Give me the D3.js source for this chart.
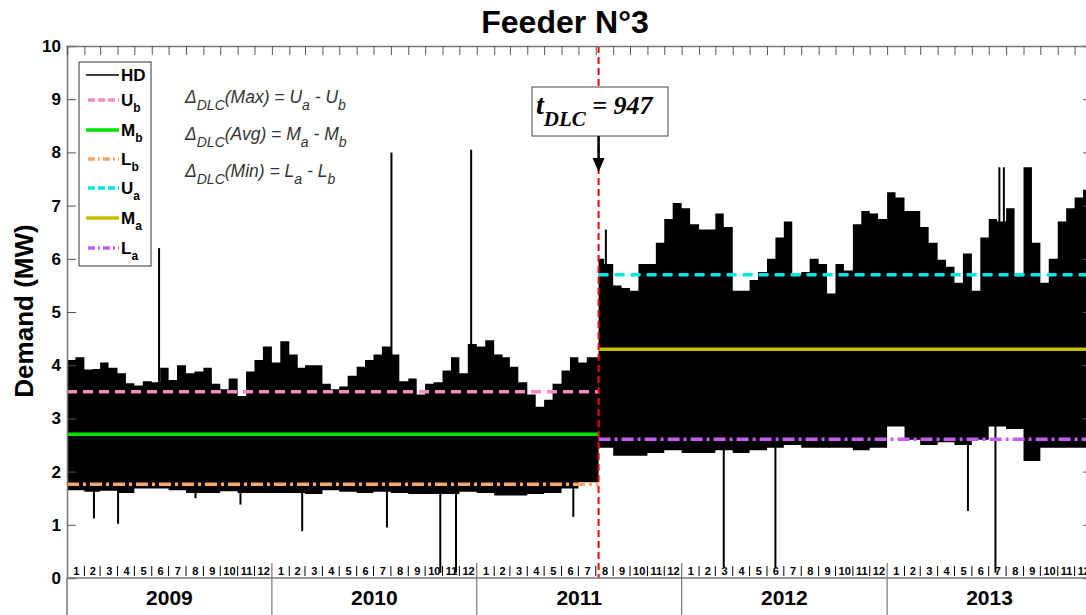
<!DOCTYPE html>
<html>
<head>
<meta charset="utf-8">
<script src="https://cdn.jsdelivr.net/npm/d3@7.9.0/dist/d3.min.js"></script>
<style>
  body { margin: 0; background: #fff; }
  svg { display: block; overflow: hidden; font-family: Arial, "Liberation Sans", sans-serif; }
</style>
</head>
<body>
<svg id="chart" width="1086" height="615"></svg>
<script>
// upper envelope of hourly demand, one value per half month, 2009-01 .. 2013-12 (MW)
const upperHalfMonth = [
  4.10, 4.15, 3.92, 3.93, 4.05, 3.95, 3.85, 3.66, 3.62, 3.70, 3.68, 3.95,
  3.72, 4.00, 3.85, 3.88, 3.95, 3.65, 3.55, 3.75, 3.42, 3.88, 4.10, 4.35,
  4.05, 4.45, 4.20, 3.95, 4.00, 4.00, 3.65, 3.55, 3.60, 3.80, 3.97, 4.10,
  4.20, 4.35, 4.20, 3.70, 3.75, 3.45, 3.65, 3.68, 3.90, 4.15, 3.85, 4.40,
  4.35, 4.47, 4.20, 4.15, 3.97, 3.68, 3.45, 3.22, 3.35, 3.65, 3.90, 4.15,
  4.05, 4.15, 6.00, 5.90, 5.50, 5.45, 5.40, 5.90, 5.90, 6.30, 6.75, 7.05,
  6.95, 6.65, 6.55, 6.55, 6.85, 6.60, 5.40, 5.40, 5.60, 5.75, 6.00, 6.40,
  6.70, 5.70, 5.75, 6.00, 5.90, 5.35, 5.90, 5.78, 6.65, 6.90, 6.85, 6.75,
  7.25, 7.15, 6.90, 6.90, 6.60, 6.30, 5.98, 5.85, 5.55, 6.10, 5.40, 6.40,
  6.75, 6.70, 6.95, 5.67, 7.72, 6.30, 5.55, 6.00, 6.70, 6.95, 7.15, 7.30
];

// lower envelope of hourly demand, one value per month (MW)
const lowerMonth = [
  1.65, 1.62, 1.64, 1.60, 1.68, 1.68, 1.65, 1.60, 1.60, 1.63, 1.60, 1.60,
  1.60, 1.60, 1.58, 1.65, 1.62, 1.60, 1.62, 1.60, 1.58, 1.58, 1.58, 1.62,
  1.60, 1.55, 1.55, 1.58, 1.60, 1.68, 1.80, 2.45, 2.30, 2.30, 2.35, 2.40,
  2.35, 2.35, 2.40, 2.35, 2.40, 2.45, 2.50, 2.45, 2.45, 2.45, 2.40, 2.45,
  2.85, 2.60, 2.50, 2.55, 2.50, 2.60, 2.85, 2.80, 2.20, 2.45, 2.45, 2.45
];

// isolated hourly outliers
const spikeDates = [
  "2009-02-18", "2009-04-02", "2009-06-14", "2009-08-18", "2009-11-06",
  "2010-02-24", "2010-07-25", "2010-08-02", "2010-10-28", "2010-11-25",
  "2010-12-22", "2011-06-22", "2011-08-19", "2012-03-16", "2012-06-16",
  "2013-05-25", "2013-07-13", "2013-07-20", "2013-07-28"
];
const spikeValues = [
  1.12, 1.02, 6.20, 1.50, 1.38,
  0.88, 0.95, 8.00, 0.10, 0.10,
  8.05, 1.15, 6.55, 0.20, 0.20,
  1.26, 0.10, 7.72, 7.72
];

// before / after DLC levels
const dlcDay = 947;
const beforeLevels = [
  { key: "Ub", value: 3.5, color: "#f58cc0", dash: "10,6", width: 3.5 },
  { key: "Mb", value: 2.7, color: "#00e400", dash: null, width: 3.5 },
  { key: "Lb", value: 1.76, color: "#f7a866", dash: "12,4,3,4", width: 3.5 }
];
const afterLevels = [
  { key: "Ua", value: 5.7, color: "#00e8e8", dash: "10,6", width: 3.5 },
  { key: "Ma", value: 4.3, color: "#c8c000", dash: null, width: 3.5 },
  { key: "La", value: 2.61, color: "#c65cf2", dash: "12,4,3,4", width: 3.5 }
];

const years = [2009, 2010, 2011, 2012, 2013];
const monthLabels = ["1","2","3","4","5","6","7","8","9","10","11","12"];
const yTicks = [0,1,2,3,4,5,6,7,8,9,10];

const svg = d3.select("#chart");
const x = d3.scaleTime()
  .domain([new Date(2009, 0, 1), new Date(2014, 0, 1)])
  .range([67, 1092]);
const y = d3.scaleLinear().domain([0, 10]).range([578, 46]);

const dlcDate = d3.timeDay.offset(new Date(2009, 0, 1), dlcDay);

// band points, one step per half month
const halfDate = k => new Date(2009 + Math.floor(k / 24), Math.floor((k % 24) / 2), k % 2 ? 16 : 1);
const band = upperHalfMonth.map((v, k) => ({ d: halfDate(k), hi: v, lo: lowerMonth[Math.floor(k / 2)] }));
// first post-DLC step starts on the DLC day
band.forEach(p => {
  if (+p.d === +new Date(2011, 7, 1)) p.d = dlcDate;
});
band.push({ d: new Date(2014, 0, 1), hi: upperHalfMonth[119], lo: lowerMonth[59] });

const area = d3.area()
  .x(d => x(d.d))
  .y0(d => y(d.lo))
  .y1(d => y(d.hi))
  .curve(d3.curveStepAfter);

svg.append("path")
  .datum(band)
  .attr("d", area)
  .attr("fill", "#000");

// spikes
spikeDates.forEach((s, i) => {
  const d = d3.timeParse("%Y-%m-%d")(s);
  const base = d < dlcDate ? 2.7 : 4.3;
  svg.append("line")
    .attr("x1", x(d)).attr("x2", x(d))
    .attr("y1", y(base)).attr("y2", y(spikeValues[i]))
    .attr("stroke", "#000").attr("stroke-width", 2);
});

// level lines
const x0 = new Date(2009, 0, 1), x1 = new Date(2014, 0, 1);
function levelLine(l, a, b) {
  svg.append("line")
    .attr("x1", x(a)).attr("x2", x(b))
    .attr("y1", y(l.value)).attr("y2", y(l.value))
    .attr("stroke", l.color)
    .attr("stroke-width", l.width)
    .attr("stroke-dasharray", l.dash);
}
beforeLevels.forEach(l => levelLine(l, x0, dlcDate));
afterLevels.forEach(l => levelLine(l, dlcDate, x1));

// DLC vertical marker
svg.append("line")
  .attr("x1", x(dlcDate)).attr("x2", x(dlcDate))
  .attr("y1", y(10)).attr("y2", y(0))
  .attr("stroke", "#ff0000").attr("stroke-width", 2)
  .attr("stroke-dasharray", "7,4");

// axes
const gray = "#777";
const yAxis = svg.append("g")
  .attr("transform", `translate(${x(x0)},0)`)
  .call(d3.axisLeft(y).tickValues(yTicks).tickSize(-9).tickPadding(6).tickFormat(d3.format("d")));
yAxis.selectAll("text")
  .attr("font-size", 17).attr("font-weight", "bold").attr("fill", "#000")
  .attr("font-family", "Arial, 'Liberation Sans', sans-serif");

const rAxis = svg.append("g")
  .attr("transform", `translate(${x(x1)},0)`)
  .call(d3.axisRight(y).tickValues(yTicks).tickSize(-9).tickFormat(""));

const tAxis = svg.append("g")
  .attr("transform", `translate(0,${y(10)})`)
  .call(d3.axisTop(x).ticks(d3.timeMonth.every(1)).tickSize(-9).tickFormat(""));

[yAxis, rAxis, tAxis].forEach(g => {
  g.selectAll("path").attr("stroke", gray).attr("stroke-width", 1.5);
  g.selectAll("line").attr("stroke", "#555");
});

// bottom axis: months and years
svg.append("line")
  .attr("x1", x(x0)).attr("x2", x(x1))
  .attr("y1", y(0)).attr("y2", y(0))
  .attr("stroke", gray).attr("stroke-width", 1.5);
svg.append("line")
  .attr("x1", x(x0)).attr("x2", x(x0))
  .attr("y1", y(0)).attr("y2", 615)
  .attr("stroke", gray).attr("stroke-width", 1.5);

years.forEach(yr => {
  monthLabels.forEach((m, i) => {
    const a = new Date(yr, i, 1), b = new Date(yr, i + 1, 1);
    svg.append("text")
      .attr("x", (x(a) + x(b)) / 2 + 0.5)
      .attr("y", 575)
      .attr("text-anchor", "middle")
      .attr("font-size", 11).attr("font-weight", "bold")
      .attr("fill", "#000")
      .text(m);
    if (i > 0) {
      svg.append("line")
        .attr("x1", x(a)).attr("x2", x(a))
        .attr("y1", 566).attr("y2", 576)
        .attr("stroke", "#000").attr("stroke-width", 1);
    }
  });
  if (yr > 2009) {
    svg.append("line")
      .attr("x1", x(new Date(yr, 0, 1))).attr("x2", x(new Date(yr, 0, 1)))
      .attr("y1", 563).attr("y2", 615)
      .attr("stroke", gray).attr("stroke-width", 1.2);
  }
  svg.append("text")
    .attr("x", (x(new Date(yr, 0, 1)) + x(new Date(yr + 1, 0, 1))) / 2)
    .attr("y", 605)
    .attr("text-anchor", "middle")
    .attr("font-size", 21).attr("font-weight", "bold")
    .text(yr);
});

// title and y label
svg.append("text")
  .attr("x", 565).attr("y", 33)
  .attr("text-anchor", "middle")
  .attr("font-size", 32).attr("font-weight", "bold")
  .text("Feeder N°3");

svg.append("text")
  .attr("transform", "translate(33,311) rotate(-90)")
  .attr("text-anchor", "middle")
  .attr("font-size", 26).attr("font-weight", "bold")
  .text("Demand (MW)");

// legend
const legend = svg.append("g");
legend.append("rect")
  .attr("x", 79).attr("y", 62).attr("width", 72).attr("height", 204)
  .attr("fill", "#fff").attr("stroke", "#333").attr("stroke-width", 1);
const legendItems = [
  { main: "HD", sub: "", color: "#000", dash: null, width: 1.5 },
  { main: "U", sub: "b", ...beforeLevels[0] },
  { main: "M", sub: "b", ...beforeLevels[1] },
  { main: "L", sub: "b", ...beforeLevels[2] },
  { main: "U", sub: "a", ...afterLevels[0] },
  { main: "M", sub: "a", ...afterLevels[1] },
  { main: "L", sub: "a", ...afterLevels[2] }
];
const legendY = [75, 100, 130, 159, 188, 218, 248];
legendItems.forEach((it, i) => {
  const ly = legendY[i];
  legend.append("line")
    .attr("x1", it.dash ? 88 : 86).attr("x2", 119)
    .attr("y1", ly).attr("y2", ly)
    .attr("stroke", it.color)
    .attr("stroke-width", it.width)
    .attr("stroke-dasharray", it.dash ? (it.dash === "10,6" ? "7,3" : "7,3,2,3") : null);
  const t = legend.append("text")
    .attr("x", 121).attr("y", ly + 6)
    .attr("font-size", 17).attr("font-weight", "bold");
  t.append("tspan").text(it.main);
  if (it.sub) t.append("tspan").attr("dy", 6).attr("font-size", 12).text(it.sub);
});

// delta formulas
const formulas = [
  ["(Max) = U", "a", " - U", "b"],
  ["(Avg) = M", "a", " - M", "b"],
  ["(Min) = L", "a", " - L", "b"]
];
formulas.forEach((f, i) => {
  const t = svg.append("text")
    .attr("x", 185).attr("y", 103 + i * 37)
    .attr("font-size", 17.5).attr("font-style", "italic").attr("fill", "#333");
  t.append("tspan").text("Δ");
  t.append("tspan").attr("dy", 7).attr("font-size", 14).text("DLC");
  t.append("tspan").attr("dy", -7).text(f[0]);
  t.append("tspan").attr("dy", 7).attr("font-size", 14).text(f[1]);
  t.append("tspan").attr("dy", -7).text(f[2]);
  t.append("tspan").attr("dy", 7).attr("font-size", 14).text(f[3]);
});

// t_DLC annotation
svg.append("rect")
  .attr("x", 532).attr("y", 87).attr("width", 136).attr("height", 49)
  .attr("fill", "#fff").attr("stroke", "#444").attr("stroke-width", 1);
const tt = svg.append("text")
  .attr("x", 536).attr("y", 114)
  .attr("font-family", "'Liberation Serif', 'Times New Roman', serif")
  .attr("font-weight", "bold").attr("font-style", "italic")
  .attr("font-size", 28);
tt.append("tspan").text("t");
tt.append("tspan").attr("dy", 12).attr("font-size", 21).text("DLC");
tt.append("tspan").attr("dy", -12).attr("font-size", 26).text(" = " + dlcDay);

const ax = x(dlcDate);
svg.append("line")
  .attr("x1", ax).attr("x2", ax).attr("y1", 136).attr("y2", 160)
  .attr("stroke", "#000").attr("stroke-width", 2.5);
svg.append("path")
  .attr("d", `M${ax - 6},158 L${ax + 6},158 L${ax},172 Z`)
  .attr("fill", "#000");
</script>
</body>
</html>
